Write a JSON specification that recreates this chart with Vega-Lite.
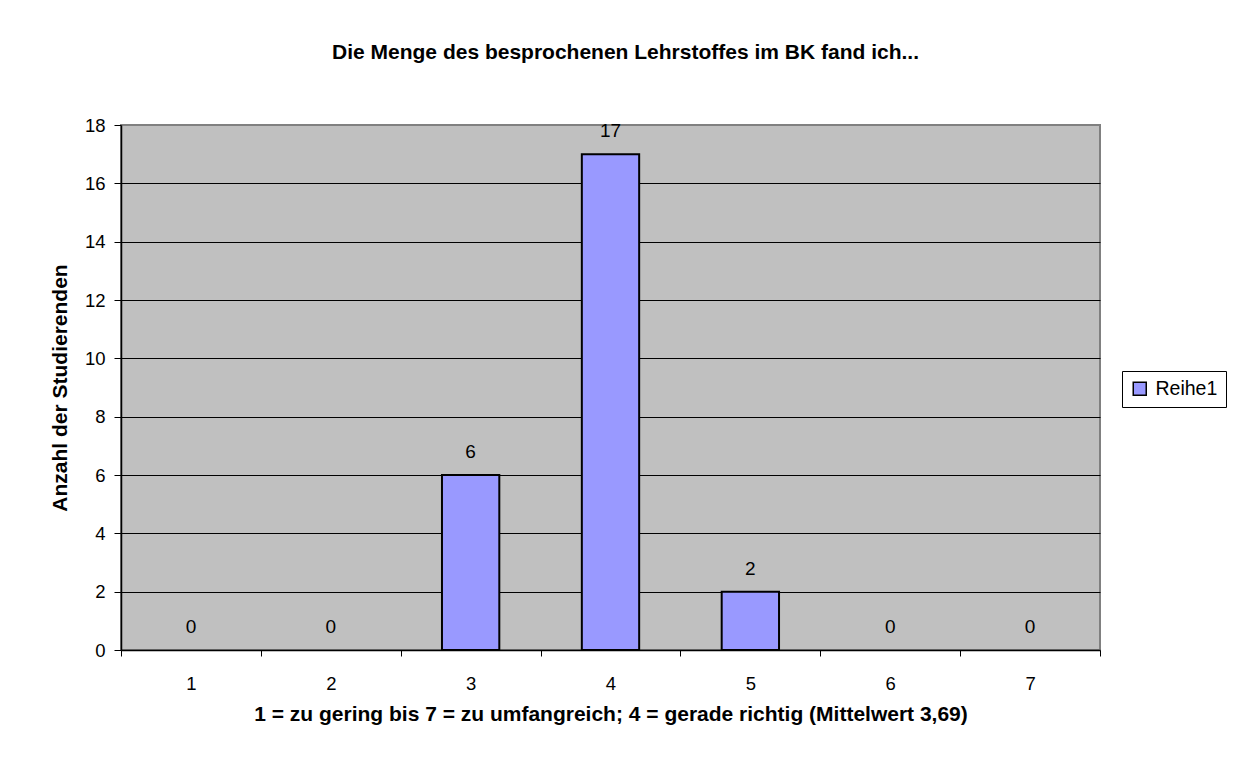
{
  "$schema": "https://vega.github.io/schema/vega-lite/v6.json",
  "width": 979,
  "height": 525,
  "autosize": {"type": "none"},
  "padding": {"left": 121, "top": 125, "right": 144, "bottom": 117},
  "background": "white",
  "config": {
    "font": "Liberation Sans",
    "view": {"stroke": "#808080", "strokeWidth": 2, "fill": "#C0C0C0"}
  },
  "title": {
    "text": "Die Menge des besprochenen Lehrstoffes im BK fand ich...",
    "fontSize": 21,
    "fontWeight": "bold",
    "color": "black",
    "anchor": "middle",
    "frame": "group",
    "baseline": "alphabetic",
    "offset": 36,
    "dx": 15
  },
  "data": {
    "values": [
      {"Wert": "1", "Anzahl": 0, "Reihe": "Reihe1"},
      {"Wert": "2", "Anzahl": 0, "Reihe": "Reihe1"},
      {"Wert": "3", "Anzahl": 6, "Reihe": "Reihe1"},
      {"Wert": "4", "Anzahl": 17, "Reihe": "Reihe1"},
      {"Wert": "5", "Anzahl": 2, "Reihe": "Reihe1"},
      {"Wert": "6", "Anzahl": 0, "Reihe": "Reihe1"},
      {"Wert": "7", "Anzahl": 0, "Reihe": "Reihe1"}
    ]
  },
  "encoding": {
    "x": {
      "field": "Wert",
      "type": "ordinal",
      "scale": {"paddingInner": 0, "paddingOuter": 0},
      "axis": {
        "title": "1 = zu gering bis 7 = zu umfangreich; 4 = gerade richtig (Mittelwert 3,69)",
        "titleFontSize": 21,
        "titleFontWeight": "bold",
        "titleColor": "black",
        "titleBaseline": "alphabetic",
        "titleAlign": "center",
        "titleX": 489.5,
        "titleY": 70,
        "labelAngle": 0,
        "labelFontSize": 18.5,
        "labelColor": "black",
        "labelPadding": 18,
        "tickBand": "extent",
        "tickSize": 6,
        "tickColor": "black",
        "domainColor": "black",
        "domainWidth": 1.5,
        "grid": false
      }
    },
    "y": {
      "field": "Anzahl",
      "type": "quantitative",
      "scale": {"domain": [0, 18], "nice": false},
      "axis": {
        "title": "Anzahl der Studierenden",
        "titleFontSize": 21,
        "titleFontWeight": "bold",
        "titleColor": "black",
        "titleAngle": -90,
        "titleBaseline": "alphabetic",
        "titleAlign": "center",
        "titleX": -55,
        "titleY": 262.5,
        "values": [0, 2, 4, 6, 8, 10, 12, 14, 16, 18],
        "labelFontSize": 18.5,
        "labelColor": "black",
        "labelPadding": 9,
        "tickSize": 7,
        "tickColor": "black",
        "domainColor": "black",
        "domainWidth": 1.5,
        "grid": true,
        "gridColor": {"condition": {"test": "datum.value === 18 || datum.value === 0", "value": "transparent"}, "value": "black"},
        "gridWidth": 1,
        "gridOpacity": 1
      }
    }
  },
  "layer": [
    {
      "transform": [{"filter": "datum.Anzahl > 0"}],
      "mark": {"type": "bar", "width": {"band": 0.41}, "stroke": "black", "strokeWidth": 2},
      "encoding": {
        "fill": {
          "field": "Reihe",
          "type": "nominal",
          "scale": {"range": ["#9999FF"]},
          "legend": {
            "title": null,
            "orient": "none",
            "legendX": 1001,
            "legendY": 246,
            "strokeColor": "black",
            "fillColor": "white",
            "padding": 8,
            "symbolType": "square",
            "symbolSize": 169,
            "symbolStrokeColor": "black",
            "symbolStrokeWidth": 1.5,
            "symbolOpacity": 1,
            "labelFontSize": 19.5,
            "labelColor": "black",
            "labelOffset": 6
          }
        }
      }
    },
    {
      "mark": {"type": "text", "dy": -17, "baseline": "alphabetic", "fontSize": 19, "color": "black"},
      "encoding": {"text": {"field": "Anzahl", "type": "quantitative"}}
    }
  ]
}
